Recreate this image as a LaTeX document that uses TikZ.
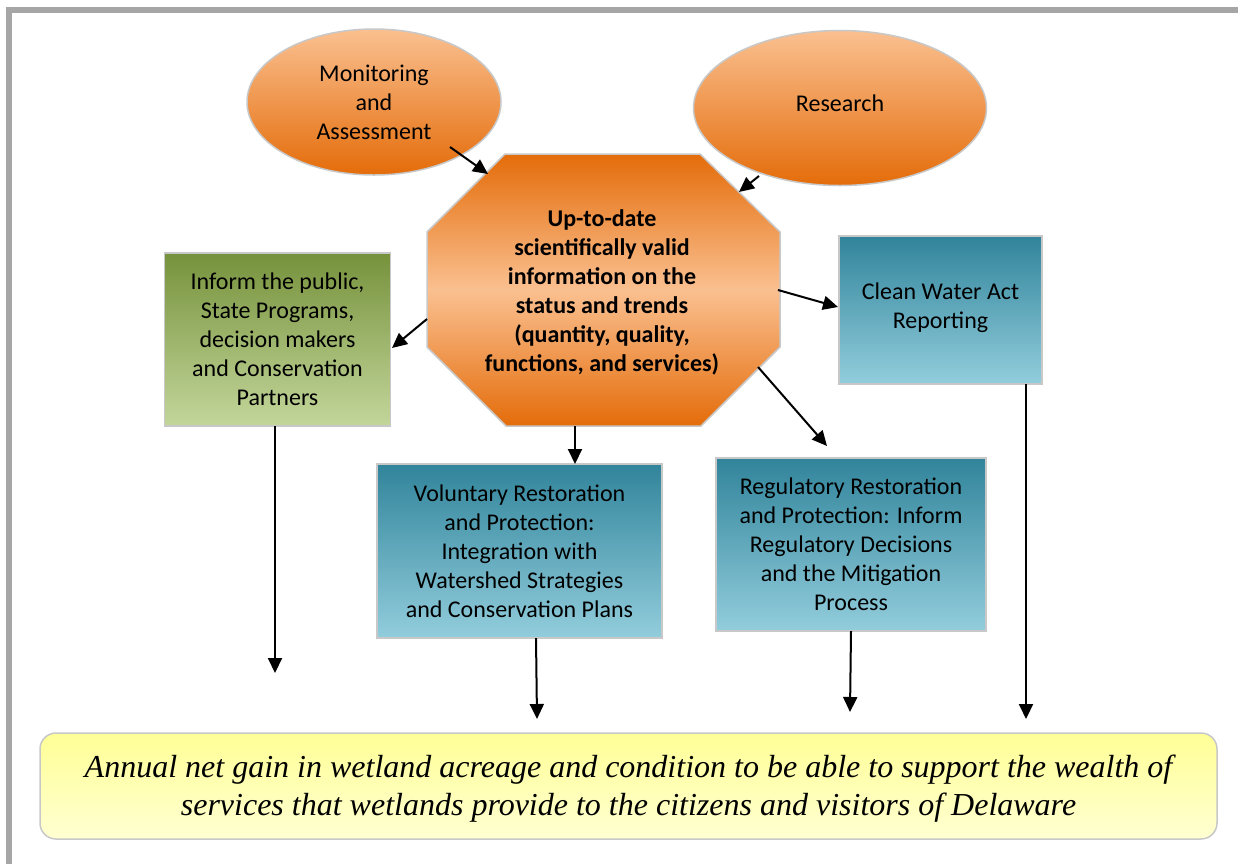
\documentclass[tikz,border=0pt]{standalone}
\usepackage{fontspec}
\setmainfont{Carlito}
\newfontfamily\serifit{Liberation Serif}
\usetikzlibrary{shapes.geometric,arrows.meta}
\definecolor{orD}{RGB}{228,108,10}
\definecolor{orL}{RGB}{250,192,144}
\definecolor{grD}{RGB}{118,146,60}
\definecolor{grL}{RGB}{195,214,155}
\definecolor{tlD}{RGB}{49,132,155}
\definecolor{tlL}{RGB}{146,205,220}
\definecolor{ylT}{RGB}{255,255,150}
\definecolor{ylB}{RGB}{255,255,210}
\definecolor{edgeC}{RGB}{200,200,200}
\definecolor{frameC}{RGB}{166,166,166}
\tikzset{
  txt/.style={font=\fontsize{24}{29}\selectfont, align=center, text=black},
  oval/.style={ellipse, draw=edgeC, line width=1.5pt, top color=orL, bottom color=orD, txt, inner sep=0pt},
  greenbox/.style={rectangle, draw=edgeC, line width=1.5pt, top color=grD, bottom color=grL, txt, inner sep=0pt},
  tealbox/.style={rectangle, draw=edgeC, line width=1.5pt, top color=tlD, bottom color=tlL, txt, inner sep=0pt},
  goalbox/.style={rectangle, rounded corners=16pt, draw=edgeC, line width=1.5pt, top color=ylT, bottom color=ylB, inner sep=0pt},
  goaltxt/.style={align=center, inner sep=0pt, font=\serifit\itshape\fontsize{32}{38}\selectfont},
  arr/.style={line width=2pt, -{Triangle[length=15pt,width=14pt]}},
}
\begin{document}
\begin{tikzpicture}[x=1pt,y=-1pt]
\useasboundingbox (0,0) rectangle (1238,863);
% frame
\draw[frameC, line width=6pt] (9,870) -- (9,10) -- (1245,10);
% ovals
\node[oval, minimum width=254pt, minimum height=146pt] (mon) at (374,102) {Monitoring\\and\\Assessment};
\node[oval, minimum width=293pt, minimum height=155pt] (res) at (840,108) {Research\\[-19pt]};
% octagon
\shade[top color=orD, bottom color=orD, middle color=orL, draw=edgeC, line width=1.5pt]
  (505,154) -- (700,154) -- (780,232) -- (780,347) -- (701,426) -- (506,426) -- (427,347) -- (427,232) -- cycle;
\node[txt, font=\bfseries\fontsize{24}{29}\selectfont] (oct) at (602,292) {Up-to-date\\scientifically valid\\information on the\\status and trends\\(quantity, quality,\\functions, and services)};
% boxes
\node[greenbox, minimum width=226pt, minimum height=173pt] (pub) at (277.5,339.5) {Inform the public,\\State Programs,\\decision makers\\and Conservation\\Partners};
\node[tealbox, minimum width=203pt, minimum height=148pt] (cwa) at (940.5,310) {Clean Water Act\\Reporting\\[-20pt]};
\node[tealbox, minimum width=285pt, minimum height=174pt] (vol) at (519.5,551) {Voluntary Restoration\\and Protection:\\Integration with\\Watershed Strategies\\and Conservation Plans};
\node[tealbox, minimum width=270pt, minimum height=173pt] (reg) at (851,544.5) {Regulatory Restoration\\and Protection: Inform\\Regulatory Decisions\\and the Mitigation\\Process};
\node[goalbox, minimum width=1177pt, minimum height=106pt] (goal) at (628.5,786) {};
\node[goaltxt] (goaltext) at (628.5,789) {Annual net gain in wetland acreage and condition to be able to support the wealth of\\services that wetlands provide to the citizens and visitors of Delaware};
% connector end points
\coordinate (monS) at (450,147);
\coordinate (octTL) at (488,174);
\coordinate (resS) at (759,176);
\coordinate (octTR) at (739,192);
\coordinate (octL) at (427,319);
\coordinate (pubE) at (392,348);
\coordinate (octR) at (778,290);
\coordinate (cwaW) at (838,307);
\coordinate (octB) at (575,426);
\coordinate (volN) at (575,464);
\coordinate (octBR) at (758,367);
\coordinate (regN) at (827,446);
\coordinate (pubS) at (275,426);
\coordinate (pubEnd) at (275,673);
\coordinate (volS) at (536,638);
\coordinate (volEnd) at (537,719);
\coordinate (regS) at (851,631);
\coordinate (regEnd) at (850,712);
\coordinate (cwaS) at (1026,384);
\coordinate (cwaEnd) at (1026,719);
% arrows
\draw[arr] (monS) -- (octTL);
\draw[arr] (resS) -- (octTR);
\draw[arr] (octL) -- (pubE);
\draw[arr] (octR) -- (cwaW);
\draw[arr] (octB) -- (volN);
\draw[arr] (octBR) -- (regN);
\draw[arr] (pubS) -- (pubEnd);
\draw[arr] (volS) -- (volEnd);
\draw[arr] (regS) -- (regEnd);
\draw[arr] (cwaS) -- (cwaEnd);
\end{tikzpicture}
\end{document}
